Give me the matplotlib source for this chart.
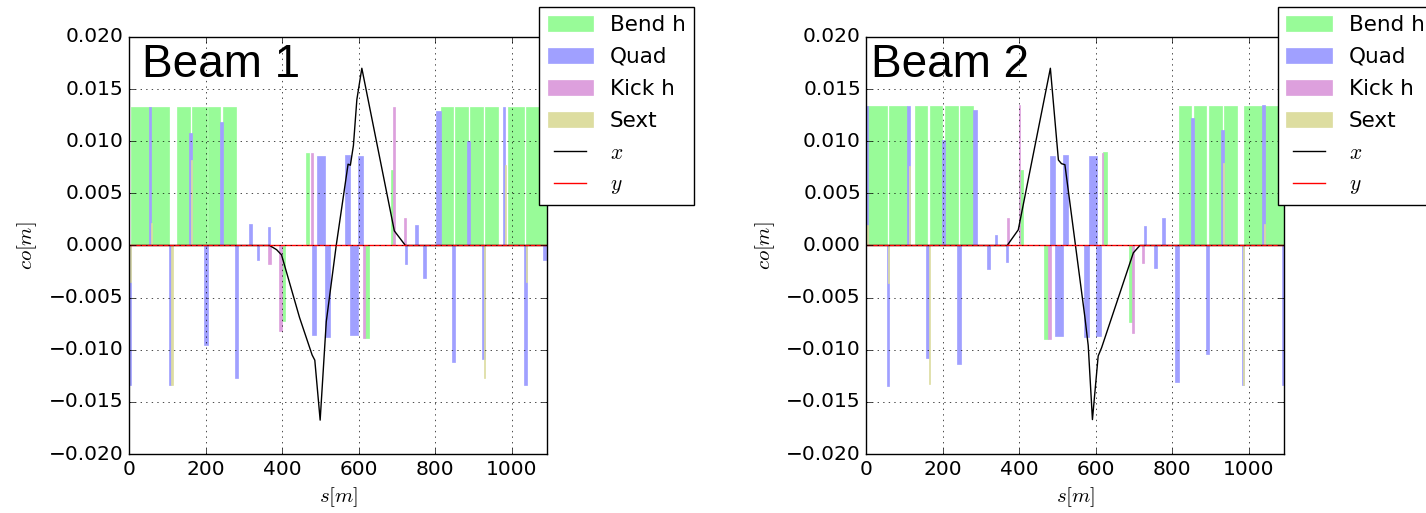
import matplotlib
matplotlib.use("Agg")
import matplotlib.pyplot as plt

plt.style.use("classic")

# lattice elements, (start s, end s, strength)
b1_bend = [(4, 52, 0.0133), (52, 104, 0.0133), (125, 158, 0.0133), (164, 203, 0.0133),
           (205, 237, 0.0133), (244, 278, 0.0133), (397, 408, -0.0072), (463, 471, 0.0089),
           (615, 626, -0.0089), (684, 691, 0.0072), (814, 846, 0.0133), (852, 885, 0.0133),
           (892, 926, 0.0133), (930, 964, 0.0133), (990, 1032, 0.0133), (1038, 1093, 0.0133)]
b1_quad = [(0, 5, -0.0134), (52, 57, 0.0133), (104, 110, -0.0134), (156, 163, 0.0108),
           (196, 205, -0.0095), (237, 244, 0.0118), (276, 284, -0.0127), (314, 321, 0.0021),
           (334, 339, -0.0014), (362, 369, 0.0018), (478, 489, -0.0086), (492, 511, 0.0086),
           (512, 524, -0.0088), (565, 578, 0.0087), (578, 599, -0.0086), (599, 611, 0.0086),
           (720, 726, -0.0018), (747, 756, 0.0020), (769, 776, -0.0031), (802, 814, 0.0129),
           (843, 852, -0.0112), (883, 892, 0.0100), (922, 929, -0.0109), (976, 982, 0.0133),
           (1031, 1039, -0.0134), (1083, 1090, -0.0014)]
b1_kick = [(363, 371, -0.0018), (392, 398, -0.0082), (474, 479, 0.0089), (612, 616, -0.0089),
           (689, 694, 0.0133), (717, 724, 0.0026)]
b1_sext = [(1, 4, -0.0035), (56, 59, 0.0022), (110, 113, -0.0134), (160, 163, 0.0082),
           (928, 931, -0.0127), (982, 985, 0.0077), (1036, 1039, -0.0035)]

b2_bend = [(4, 53, 0.0134), (58, 105, 0.0134), (127, 159, 0.0134), (165, 198, 0.0134),
           (206, 239, 0.0134), (245, 279, 0.0134), (400, 410, 0.0072), (464, 475, -0.0090),
           (619, 629, 0.0090), (686, 696, -0.0073), (817, 849, 0.0134), (856, 888, 0.0134),
           (897, 930, 0.0134), (935, 968, 0.0134), (988, 1037, 0.0134), (1039, 1093, 0.0134)]
b2_quad = [(0, 4, 0.0134), (53, 58, -0.0135), (105, 114, 0.0134), (157, 164, -0.0108),
           (197, 206, 0.0101), (238, 246, -0.0114), (278, 288, 0.0130), (316, 323, -0.0023),
           (336, 341, 0.0010), (364, 371, -0.0016), (480, 492, 0.0086), (494, 513, -0.0087),
           (515, 527, 0.0087), (569, 582, -0.0088), (582, 602, 0.0086), (600, 613, -0.0087),
           (725, 730, 0.0019), (753, 760, -0.0022), (773, 781, 0.0026), (807, 817, -0.0131),
           (849, 856, 0.0122), (887, 897, -0.0104), (928, 935, 0.0111), (981, 987, -0.0134),
           (1035, 1043, 0.0135), (1088, 1095, -0.0134)]
b2_kick = [(368, 374, 0.0026), (399, 401, 0.0135), (476, 482, -0.0090), (615, 619, 0.0089),
           (694, 700, -0.0084), (720, 725, -0.0017)]
b2_sext = [(0, 3, 0.0020), (57, 60, -0.0036), (112, 115, 0.0076), (164, 167, -0.0133),
           (933, 936, 0.0079), (985, 987, -0.0134), (1040, 1043, 0.0021), (1092, 1095, -0.0034)]

# closed orbit
b1_s = [0, 367, 385, 398, 445, 478, 485, 499, 515, 541, 572, 578, 586, 595, 608, 693, 722, 1100]
b1_x = [0, 0, -0.0004, -0.0009, -0.0069, -0.0105, -0.0110, -0.01675, -0.0073, 0.0,
        0.0078, 0.0077, 0.0096, 0.0140, 0.0170, 0.0014, 0.0, 0.0]
b2_s = [0, 368, 397, 481, 502, 510, 519, 571, 580, 591, 606, 615, 698, 715, 1100]
b2_x = [0, 0, 0.0015, 0.0170, 0.0082, 0.00785, 0.00775, -0.0068, -0.0096, -0.0167,
        -0.0106, -0.0098, -0.0007, 0.0, 0.0]
y_s = [0, 1100]
y_v = [0, 0]

xticks = [0, 200, 400, 600, 800, 1000]
yticks = [-0.02, -0.015, -0.01, -0.005, 0, 0.005, 0.01, 0.015, 0.02]

colors = {"Bend h": "#98fb98", "Quad": "#a0a0ff", "Kick h": "#dda0dd", "Sext": "#dddda0"}


def draw(ax, bend, quad, kick, sext, s, x, name, leg_x, name_x):
    bars = []
    for lab, elems in [("Bend h", bend), ("Quad", quad), ("Kick h", kick), ("Sext", sext)]:
        starts = [e[0] for e in elems]
        widths = [e[1] - e[0] for e in elems]
        heights = [e[2] for e in elems]
        b = ax.bar(starts, heights, width=widths, align="edge", color=colors[lab],
                   edgecolor=colors[lab], linewidth=0.5, label=lab)
        bars.append(b)
    lx, = ax.plot(s, x, "k-", lw=1.0, label="$x$")
    ly, = ax.plot(y_s, y_v, "r-", lw=1.0, label="$y$")
    ax.set_xlim(0, 1093)
    ax.set_ylim(-0.02, 0.02)
    ax.set_xticks(xticks)
    ax.set_yticks(yticks)
    ax.tick_params(labelsize=14.5)
    ax.grid(True)
    ax.set_xlabel("$s[m]$", fontsize=15)
    ax.set_ylabel("$co[m]$", fontsize=15)
    ax.xaxis.set_label_coords(0.5, -0.075)
    ax.yaxis.set_label_coords(-0.215, 0.5)
    ax.text(name_x, 0.905, name, transform=ax.transAxes, fontsize=33,
            family="Liberation Sans", va="baseline")
    ax.legend(bars + [lx, ly], ["Bend h", "Quad", "Kick h", "Sext", "$x$", "$y$"],
              loc="upper left", bbox_to_anchor=(leg_x, 1.073), borderaxespad=0,
              fontsize=15.5, handlelength=2.1, labelspacing=0.55)


fig = plt.figure(figsize=(14.26, 5.13), dpi=100, facecolor="white")
ax1 = fig.add_axes([0.0907, 0.115, 0.2931, 0.8129])
ax2 = fig.add_axes([0.6076, 0.115, 0.2931, 0.8129])

draw(ax1, b1_bend, b1_quad, b1_kick, b1_sext, b1_s, b1_x, "Beam 1", 0.980, 0.03)
draw(ax2, b2_bend, b2_quad, b2_kick, b2_sext, b2_s, b2_x, "Beam 2", 0.984, 0.012)

fig.savefig("out.png", dpi=100, facecolor="white")
